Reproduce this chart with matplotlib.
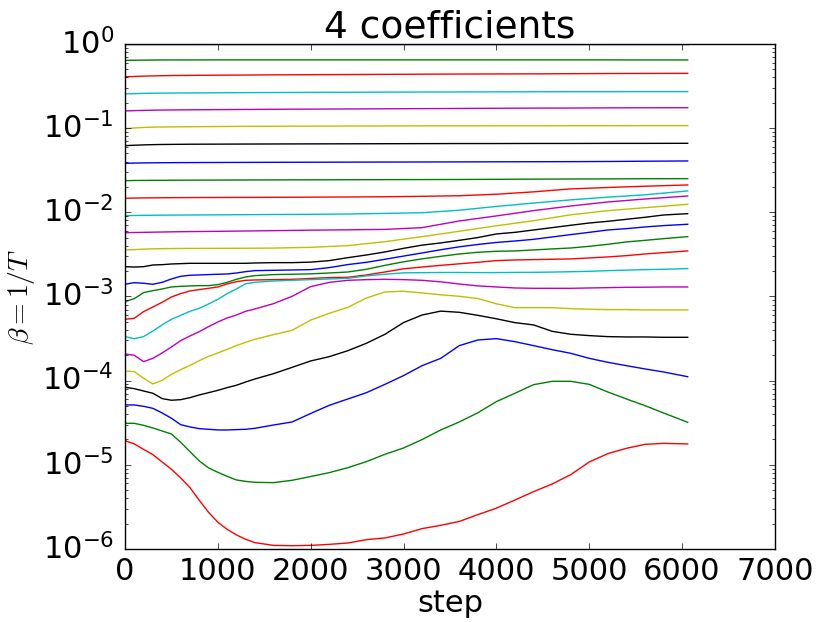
import numpy as np
import matplotlib
matplotlib.use("Agg")
import matplotlib.pyplot as plt
from matplotlib.ticker import LogLocator, NullFormatter

# ---- data: log10(beta) ----
steps_coarse = [0, 100, 200, 300, 400, 500, 700, 1000, 1300, 1600, 2000, 2400,
                2800, 3200, 3600, 4000, 4400, 4800, 5200, 5600, 6060]
steps_fine = [0, 100, 200, 300, 400, 500, 600, 700, 800, 900, 1000, 1100, 1200,
              1300, 1400, 1600, 1800, 2000, 2200, 2400, 2600, 2800, 3000, 3200,
              3400, 3600, 3800, 4000, 4200, 4400, 4600, 4800, 5000, 5200, 5400,
              5600, 5800, 6060]

# series on the coarse grid (nearly flat, top of the chart)
s00 = [0.0] * 21
s01 = [-0.195, -0.193, -0.192, -0.191, -0.19, -0.19, -0.19, -0.189, -0.189, -0.189, -0.189, -0.189, -0.189, -0.189, -0.189, -0.189, -0.189, -0.189, -0.189, -0.19, -0.19]
s02 = [-0.39, -0.386, -0.382, -0.379, -0.377, -0.375, -0.373, -0.371, -0.369, -0.367, -0.365, -0.363, -0.361, -0.359, -0.357, -0.356, -0.355, -0.353, -0.351, -0.350, -0.349]
s03 = [-0.594, -0.59, -0.587, -0.585, -0.584, -0.583, -0.582, -0.580, -0.578, -0.577, -0.575, -0.574, -0.572, -0.571, -0.570, -0.569, -0.568, -0.567, -0.567, -0.566, -0.566]
s04 = [-0.796, -0.792, -0.789, -0.787, -0.785, -0.784, -0.782, -0.780, -0.778, -0.776, -0.774, -0.772, -0.770, -0.768, -0.766, -0.764, -0.762, -0.761, -0.759, -0.758, -0.757]
s05 = [-1.006, -0.998, -0.992, -0.988, -0.986, -0.985, -0.983, -0.981, -0.979, -0.978, -0.976, -0.975, -0.974, -0.973, -0.973, -0.972, -0.972, -0.971, -0.971, -0.970, -0.970]
s06 = [-1.208, -1.203, -1.199, -1.196, -1.194, -1.193, -1.191, -1.190, -1.189, -1.188, -1.187, -1.186, -1.185, -1.184, -1.183, -1.183, -1.182, -1.182, -1.181, -1.181, -1.180]
s07 = [-1.418, -1.415, -1.413, -1.412, -1.411, -1.410, -1.409, -1.408, -1.407, -1.406, -1.405, -1.404, -1.403, -1.402, -1.401, -1.400, -1.399, -1.398, -1.396, -1.393, -1.390]
s08 = [-1.624, -1.622, -1.621, -1.620, -1.620, -1.619, -1.618, -1.617, -1.616, -1.615, -1.614, -1.613, -1.612, -1.611, -1.610, -1.608, -1.606, -1.604, -1.603, -1.601, -1.600]
s09 = [-1.833, -1.831, -1.829, -1.828, -1.827, -1.826, -1.825, -1.824, -1.823, -1.822, -1.82, -1.818, -1.815, -1.81, -1.803, -1.785, -1.757, -1.722, -1.705, -1.69, -1.675]
s10 = [-2.04, -2.038, -2.036, -2.035, -2.034, -2.033, -2.032, -2.03, -2.028, -2.026, -2.024, -2.02, -2.013, -2.005, -1.975, -1.93, -1.89, -1.852, -1.82, -1.792, -1.746]
s11 = [-2.242, -2.24, -2.238, -2.236, -2.234, -2.232, -2.229, -2.226, -2.222, -2.218, -2.212, -2.208, -2.203, -2.182, -2.103, -2.043, -1.98, -1.925, -1.877, -1.842, -1.806]
s12 = [-2.447, -2.443, -2.438, -2.434, -2.432, -2.43, -2.429, -2.428, -2.427, -2.425, -2.416, -2.396, -2.349, -2.289, -2.225, -2.16, -2.10, -2.03, -1.98, -1.945, -1.905]

# series on the fine grid (curved, lower part of the chart)
s13 = [-2.646, -2.650, -2.646, -2.626, -2.622, -2.614, -2.610, -2.606, -2.606, -2.606, -2.606, -2.606, -2.606, -2.606, -2.602, -2.598, -2.598, -2.592, -2.574, -2.539, -2.507, -2.471, -2.428, -2.39, -2.364, -2.333, -2.30, -2.257, -2.238, -2.210, -2.182, -2.154, -2.127, -2.107, -2.083, -2.059, -2.032, -2.016]
s14 = [-2.855, -2.836, -2.843, -2.855, -2.832, -2.792, -2.760, -2.748, -2.744, -2.740, -2.736, -2.733, -2.721, -2.705, -2.693, -2.689, -2.685, -2.681, -2.657, -2.621, -2.594, -2.558, -2.52, -2.483, -2.445, -2.41, -2.382, -2.358, -2.341, -2.321, -2.293, -2.265, -2.238, -2.210, -2.194, -2.174, -2.158, -2.142]
s15 = [-3.061, -3.026, -2.954, -2.931, -2.911, -2.887, -2.879, -2.875, -2.871, -2.871, -2.859, -2.832, -2.796, -2.768, -2.752, -2.740, -2.736, -2.731, -2.721, -2.709, -2.677, -2.630, -2.588, -2.553, -2.523, -2.495, -2.475, -2.463, -2.459, -2.447, -2.435, -2.424, -2.404, -2.380, -2.352, -2.333, -2.313, -2.289]
s16 = [-3.271, -3.259, -3.180, -3.125, -3.069, -3.006, -2.966, -2.934, -2.918, -2.903, -2.887, -2.851, -2.824, -2.808, -2.804, -2.800, -2.796, -2.786, -2.776, -2.772, -2.744, -2.709, -2.671, -2.65, -2.63, -2.612, -2.594, -2.574, -2.566, -2.562, -2.558, -2.554, -2.542, -2.530, -2.515, -2.495, -2.479, -2.459]
s17 = [-3.477, -3.501, -3.477, -3.410, -3.338, -3.271, -3.224, -3.176, -3.141, -3.089, -3.034, -2.966, -2.911, -2.848, -2.832, -2.816, -2.808, -2.800, -2.792, -2.784, -2.756, -2.736, -2.719, -2.717, -2.715, -2.715, -2.716, -2.716, -2.714, -2.713, -2.710, -2.706, -2.701, -2.693, -2.687, -2.681, -2.677, -2.669]
s18 = [-3.683, -3.699, -3.774, -3.735, -3.671, -3.600, -3.525, -3.469, -3.418, -3.358, -3.303, -3.255, -3.220, -3.176, -3.148, -3.085, -2.998, -2.883, -2.832, -2.808, -2.800, -2.796, -2.80, -2.808, -2.826, -2.852, -2.874, -2.887, -2.899, -2.903, -2.903, -2.903, -2.899, -2.895, -2.891, -2.89, -2.887, -2.887]
s19 = [-3.885, -3.893, -3.972, -4.039, -3.996, -3.925, -3.870, -3.818, -3.763, -3.711, -3.671, -3.628, -3.584, -3.544, -3.509, -3.453, -3.402, -3.28, -3.2, -3.129, -3.018, -2.946, -2.938, -2.958, -2.98, -2.998, -3.024, -3.087, -3.133, -3.133, -3.133, -3.145, -3.152, -3.156, -3.156, -3.160, -3.160, -3.160]
s20 = [-4.079, -4.095, -4.123, -4.150, -4.213, -4.233, -4.226, -4.202, -4.170, -4.143, -4.115, -4.083, -4.055, -4.016, -3.98, -3.917, -3.842, -3.766, -3.715, -3.644, -3.556, -3.449, -3.31, -3.22, -3.174, -3.188, -3.224, -3.265, -3.311, -3.338, -3.414, -3.449, -3.465, -3.477, -3.481, -3.481, -3.485, -3.485]
s21 = [-4.289, -4.289, -4.305, -4.329, -4.384, -4.447, -4.523, -4.550, -4.570, -4.578, -4.586, -4.586, -4.582, -4.578, -4.566, -4.527, -4.491, -4.39, -4.293, -4.218, -4.143, -4.044, -3.94, -3.822, -3.735, -3.584, -3.517, -3.501, -3.537, -3.584, -3.632, -3.675, -3.735, -3.782, -3.822, -3.861, -3.897, -3.953]
s22 = [-4.507, -4.507, -4.531, -4.562, -4.598, -4.634, -4.733, -4.844, -4.954, -5.037, -5.089, -5.137, -5.180, -5.197, -5.208, -5.212, -5.184, -5.139, -5.093, -5.034, -4.962, -4.875, -4.80, -4.70, -4.586, -4.491, -4.382, -4.249, -4.150, -4.048, -4.008, -4.008, -4.044, -4.135, -4.218, -4.297, -4.384, -4.495]
s23 = [-4.713, -4.752, -4.816, -4.879, -4.966, -5.053, -5.156, -5.271, -5.422, -5.564, -5.683, -5.766, -5.833, -5.885, -5.925, -5.957, -5.961, -5.957, -5.945, -5.929, -5.889, -5.869, -5.822, -5.758, -5.719, -5.673, -5.592, -5.515, -5.418, -5.319, -5.228, -5.117, -4.966, -4.867, -4.804, -4.757, -4.745, -4.752]

coarse_series = [s00, s01, s02, s03, s04, s05, s06, s07, s08, s09, s10, s11, s12]
fine_series = [s13, s14, s15, s16, s17, s18, s19, s20, s21, s22, s23]
colors = ['b', 'g', 'r', 'c', 'm', 'y', 'k']

title = "4 coefficients"
xlabel = "step"
ylabel = r"$\beta = 1/T$"
xticks = [0, 1000, 2000, 3000, 4000, 5000, 6000, 7000]
yticks = [1e-6, 1e-5, 1e-4, 1e-3, 1e-2, 1e-1, 1e0]

# ---- style ----
plt.style.use('classic')
plt.rcParams['figure.facecolor'] = 'white'
plt.rcParams['savefig.facecolor'] = 'white'
plt.rcParams['font.family'] = ['DejaVu Sans']

fig = plt.figure(figsize=(8.18, 6.22), dpi=100)
ax = fig.add_axes([0.1528, 0.1174, 0.7946, 0.8119])

k = 0
for s in coarse_series:
    ax.plot(steps_coarse, 10.0 ** np.array(s), color=colors[k % 7], lw=1.0)
    k += 1
for s in fine_series:
    ax.plot(steps_fine, 10.0 ** np.array(s), color=colors[k % 7], lw=1.0)
    k += 1

ax.set_yscale('log')
ax.set_xlim(0, 7000)
ax.set_ylim(1e-6, 1e0)
ax.set_xticks(xticks)
ax.set_yticks(yticks)
ax.yaxis.set_minor_locator(LogLocator(base=10, subs=np.arange(2, 10), numticks=20))
ax.yaxis.set_minor_formatter(NullFormatter())
ax.tick_params(axis='both', which='major', labelsize=22)
ax.tick_params(axis='y', which='major', pad=8)
ax.tick_params(axis='x', which='major', pad=6)

ax.set_title(title, fontsize=27, pad=5)
ax.set_xlabel(xlabel, fontsize=22, labelpad=2)
ax.set_ylabel(ylabel, fontsize=20, math_fontfamily='cm', labelpad=4)

fig.savefig('out.png', dpi=100)
